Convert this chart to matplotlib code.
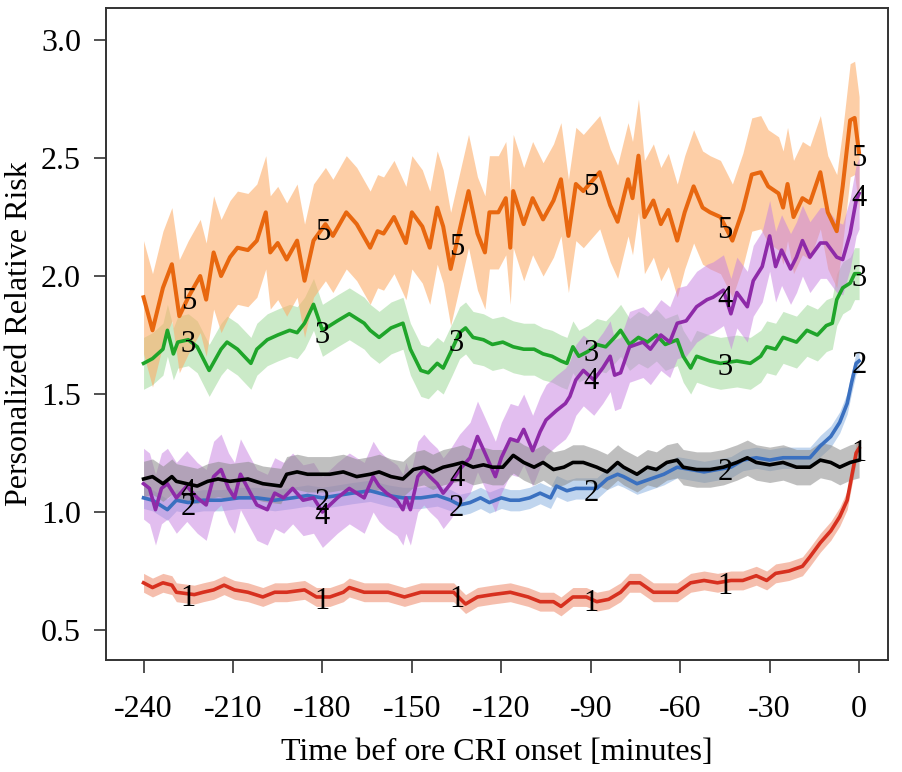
import numpy as np
import matplotlib
matplotlib.use("Agg")
import matplotlib.pyplot as plt

# -----------------------------
# DATA
# -----------------------------
# series 1 (red)
t1 = [-240, -237, -233.5, -230.5, -229, -223, -220, -216.5, -213, -209.5, -205, -200, -196, -192,
      -186, -182, -177.5, -173, -171, -166, -162, -158, -152.5, -147, -141.5, -136, -132, -128,
      -123, -117, -111, -107, -102.5, -100, -96, -91.5, -88, -84, -80, -77, -73.5, -69, -65.5,
      -61, -56.5, -52, -47.5, -43, -39, -34.5, -31, -28, -23.5, -19, -16.5, -13, -9.5, -6.5,
      -4, -2.5, -1, 0]
v1 = [0.70, 0.68, 0.70, 0.69, 0.66, 0.65, 0.66, 0.67, 0.69, 0.67, 0.66, 0.64, 0.66, 0.66,
      0.67, 0.64, 0.64, 0.66, 0.68, 0.66, 0.66, 0.66, 0.64, 0.66, 0.66, 0.66, 0.61, 0.64,
      0.65, 0.66, 0.64, 0.62, 0.62, 0.60, 0.64, 0.64, 0.62, 0.63, 0.66, 0.70, 0.70, 0.66, 0.66,
      0.66, 0.70, 0.71, 0.70, 0.71, 0.71, 0.73, 0.71, 0.74, 0.75, 0.77, 0.81, 0.87, 0.92, 0.98,
      1.05, 1.15, 1.25, 1.27]

# series 2 (blue)
t2 = [-240, -237, -232, -229, -225, -220, -214, -208, -202, -196, -190, -185, -180, -175, -170,
      -164, -158, -153, -147, -141.5, -137, -134, -130.5, -127, -124, -120, -117, -114, -110.5,
      -107, -103.5, -101.5, -98, -95, -91.5, -88, -84.5, -81, -79, -74.5, -70, -65.5, -61,
      -56.5, -52, -47.5, -43, -39, -34.5, -30, -25.5, -21, -16.5, -13, -9.5, -6.5, -4, -2.5,
      -1, 0]
v2 = [1.06, 1.05, 1.01, 1.05, 1.04, 1.05, 1.05, 1.06, 1.06, 1.05, 1.06, 1.07, 1.06, 1.07, 1.08,
      1.09, 1.07, 1.06, 1.06, 1.07, 1.05, 1.03, 1.04, 1.06, 1.04, 1.06, 1.05, 1.05, 1.06,
      1.08, 1.06, 1.11, 1.09, 1.10, 1.10, 1.10, 1.14, 1.16, 1.15, 1.12, 1.14, 1.16, 1.19,
      1.18, 1.17, 1.18, 1.19, 1.22, 1.23, 1.22, 1.23, 1.23, 1.23, 1.28, 1.32, 1.38, 1.46, 1.55,
      1.63, 1.64]

# series 3 (green)
t3 = [-240, -237, -233.5, -232, -230, -228.5, -225, -222, -218, -214, -212, -208.5, -204, -202,
      -198.5, -195, -191, -188.5, -186, -183, -180, -175, -171, -166, -164, -161, -157, -153,
      -150.5, -147, -144.5, -141.5, -139.5, -136.5, -134, -132, -129.5, -126, -123, -119.5,
      -116, -112.5, -109, -106, -103, -100, -98, -96, -94, -91, -88, -85, -82, -80, -77, -74,
      -71, -68, -65, -61, -59, -56.5, -54.5, -50, -46.5, -41, -36.5, -33, -31, -28, -25.5,
      -21, -17.5, -14, -11, -9, -7.5, -5.5, -3, -1.5, 0]
v3 = [1.63, 1.65, 1.69, 1.77, 1.67, 1.72, 1.73, 1.70, 1.60, 1.69, 1.72, 1.69, 1.63, 1.69,
      1.73, 1.75, 1.77, 1.76, 1.80, 1.88, 1.77, 1.81, 1.84, 1.80, 1.77, 1.74, 1.78, 1.80,
      1.69, 1.60, 1.59, 1.63, 1.61, 1.69, 1.76, 1.78, 1.74, 1.73, 1.71, 1.72,
      1.70, 1.69, 1.69, 1.67, 1.66, 1.64, 1.63, 1.70, 1.66, 1.68, 1.71, 1.70, 1.74, 1.77, 1.71, 1.74,
      1.72, 1.75, 1.71, 1.73, 1.66, 1.61, 1.66, 1.64, 1.63, 1.64, 1.63, 1.66, 1.70, 1.69, 1.74,
      1.72, 1.77, 1.75, 1.79, 1.80, 1.90, 1.95, 1.97, 2.01, 2.01]

# series 4 (purple)
t4 = [-240, -238, -236, -234, -232, -229, -225.5, -222, -219, -216.5, -214, -211.5, -209.5,
      -207.5, -205, -202, -198.5, -196, -193, -190, -186.5, -183, -180, -175, -171, -166, -163,
      -161, -158.5, -155, -153, -152, -150.5, -148, -146, -144, -141.5, -139.5, -137, -134,
      -130.5, -128, -125.5, -122, -120, -117, -114.5, -112.5, -109.5, -107, -105, -101.5,
      -98.5, -97, -95, -92.5, -89, -86, -83.5, -82, -80, -77, -72.5, -70, -66.5, -63.5, -61,
      -58, -54.5, -51, -49, -45.5, -43, -41, -37.5, -35.5, -32.5, -30, -28, -26, -23, -21,
      -19, -16.5, -13, -11, -7.5, -5.5, -3, -1, 0]
v4 = [1.12, 1.10, 1.01, 1.10, 1.12, 1.06, 1.11, 1.06, 1.03, 1.15, 1.18, 1.10, 1.06,
      1.16, 1.10, 1.03, 1.01, 1.08, 1.06, 1.10, 1.05, 1.06, 1.00, 1.06, 1.10, 1.06, 1.15,
      1.11, 1.08, 1.05, 1.01, 1.06, 1.01, 1.15, 1.18, 1.15, 1.12, 1.08, 1.12, 1.18,
      1.23, 1.32, 1.25, 1.15, 1.23, 1.31, 1.30, 1.35, 1.26, 1.34, 1.39, 1.43,
      1.46, 1.49, 1.56, 1.60, 1.56, 1.61, 1.66, 1.58, 1.59, 1.70, 1.72, 1.69, 1.75, 1.72, 1.80,
      1.81, 1.87, 1.90, 1.91, 1.94, 1.84, 1.93, 1.87, 1.98, 2.04, 2.17, 2.04, 2.11, 2.03, 2.08,
      2.15, 2.08, 2.14, 2.14, 2.08, 2.07, 2.18, 2.32, 2.35]

# series 5 (orange)
t5 = [-240, -237, -233.5, -230.5, -228, -225, -221, -219, -216.5, -214, -211, -208.5, -205, -202,
      -199, -197.5, -195, -192, -188.5, -186, -183, -179, -176.5, -172, -168.5, -164, -161.5,
      -159.5, -156, -152, -150, -146.5, -144, -141.5, -139.5, -137, -133, -131, -128, -125.5,
      -124, -121, -118.5, -117, -116, -112.5, -109.5, -106, -102.5, -100, -97.5, -95, -92.5,
      -87, -83.5, -81, -77.5, -76, -74, -72, -69, -66.5, -64, -61, -58.5, -55.5, -52.5, -50,
      -46.5, -42.5, -39, -36, -33, -30.5, -27, -25.5, -24, -22, -19, -16.5, -13, -10.5, -7.5,
      -5.5, -3, -1.5, 0]
v5 = [1.91, 1.77, 1.95, 2.05, 1.83, 1.91, 2.00, 1.90, 2.10, 2.00, 2.08, 2.12, 2.11, 2.15,
      2.27, 2.10, 2.14, 2.07, 2.15, 1.98, 2.15, 2.22, 2.17, 2.27, 2.22, 2.12, 2.19,
      2.18, 2.25, 2.14, 2.27, 2.21, 2.12, 2.29, 2.21, 2.03, 2.25, 2.36, 2.18, 2.10,
      2.27, 2.27, 2.33, 2.12, 2.36, 2.22, 2.33, 2.24, 2.32, 2.41, 2.17, 2.39, 2.36,
      2.44, 2.30, 2.23, 2.41, 2.33, 2.51, 2.25, 2.32, 2.22, 2.28, 2.15, 2.27, 2.38, 2.29, 2.27,
      2.25, 2.15, 2.28, 2.43, 2.44, 2.38, 2.35, 2.29, 2.39, 2.25, 2.33, 2.31, 2.44, 2.27, 2.19,
      2.38, 2.66, 2.67, 2.52]

# reference (black, unlabelled)
t0 = [-240, -237, -233.5, -230.5, -229, -222, -218.5, -215, -211, -205, -200, -194, -192, -188.5,
      -185, -182, -177.5, -173, -168.5, -164, -161, -157, -153, -149.5, -146, -143, -139.5,
      -136, -133, -129.5, -126, -123, -119.5, -116, -112.5, -109, -106, -102.5, -99, -96,
      -92.5, -88, -84.5, -81, -79, -74.5, -71, -68, -64.5, -61, -59, -54.5, -50, -45.5, -41,
      -37.5, -34.5, -30, -25.5, -21, -16.5, -13, -9.5, -6.5, -3, 0]
v0 = [1.14, 1.15, 1.12, 1.15, 1.13, 1.11, 1.13, 1.14, 1.13, 1.14, 1.12, 1.11, 1.16, 1.17,
      1.16, 1.16, 1.16, 1.17, 1.15, 1.16, 1.17, 1.15, 1.14, 1.18, 1.19, 1.17, 1.19,
      1.20, 1.21, 1.19, 1.20, 1.19, 1.19, 1.24, 1.21, 1.19, 1.21, 1.18, 1.19, 1.21,
      1.21, 1.19, 1.17, 1.21, 1.19, 1.16, 1.19, 1.18, 1.21, 1.22, 1.19, 1.18, 1.18, 1.19, 1.21,
      1.23, 1.21, 1.20, 1.21, 1.19, 1.19, 1.22, 1.21, 1.19, 1.21, 1.22]

# half width of the shaded band for each series
band = {"0": 0.075, "1": 0.04, "2": 0.045, "3": 0.11, "4": 0.15, "5": 0.24}

label_times = [-225, -180, -135, -90, -45, 0]

# -----------------------------
# STYLE
# -----------------------------
series = {
    "1": (t1, v1, "#d7301f", "#ee8a6a", 0.55),
    "2": (t2, v2, "#3a70c0", "#6b9bd8", 0.42),
    "3": (t3, v3, "#1fa52a", "#a1d99b", 0.55),
    "5": (t5, v5, "#e8670f", "#fdae6b", 0.6),
    "4": (t4, v4, "#8e2aa8", "#c77fe0", 0.5),
    "0": (t0, v0, "#000000", "#8c8c8c", 0.55),
}

plt.rcParams["font.family"] = ["Liberation Serif", "DejaVu Serif"]
plt.rcParams["axes.unicode_minus"] = False

fig = plt.figure(figsize=(9.02, 7.72), dpi=100)
ax = fig.add_axes([0.1175, 0.1451, 0.867, 0.8446])

for name, (t, v, lc, fc, a) in series.items():
    t = np.array(t)
    v = np.array(v)
    ax.fill_between(t, v - band[name], v + band[name], color=fc, alpha=a, lw=0)
    ax.plot(t, v, color=lc, lw=2.9 if name == "5" else 2.6)

# numbered markers along the curves
for name in ["1", "2", "3", "4", "5"]:
    t, v = series[name][0], series[name][1]
    for lt in label_times:
        ax.text(lt, np.interp(lt, t, v) - 0.02, name, ha="center", va="center",
                fontsize=22, color="black")

ax.set_xlim(-252.6, 9.7)
ax.set_ylim(0.373, 3.136)
ax.set_xticks([-240, -210, -180, -150, -120, -90, -60, -30, 0])
ax.set_yticks([0.5, 1.0, 1.5, 2.0, 2.5, 3.0])
ax.set_yticklabels(["0.5", "1.0", "1.5", "2.0", "2.5", "3.0"])
ax.tick_params(direction="out", length=9, width=1.2, labelsize=23, pad=9, color="#333333")
ax.tick_params(axis="x", pad=16)
for s in ax.spines.values():
    s.set_linewidth(1.4)
    s.set_color("#333333")

ax.set_xlabel("Time bef ore CRI onset [minutes]", fontsize=23, labelpad=10)
ax.set_ylabel("Personalized Relative Risk", fontsize=23, labelpad=5)

fig.savefig("out.png", dpi=100)
